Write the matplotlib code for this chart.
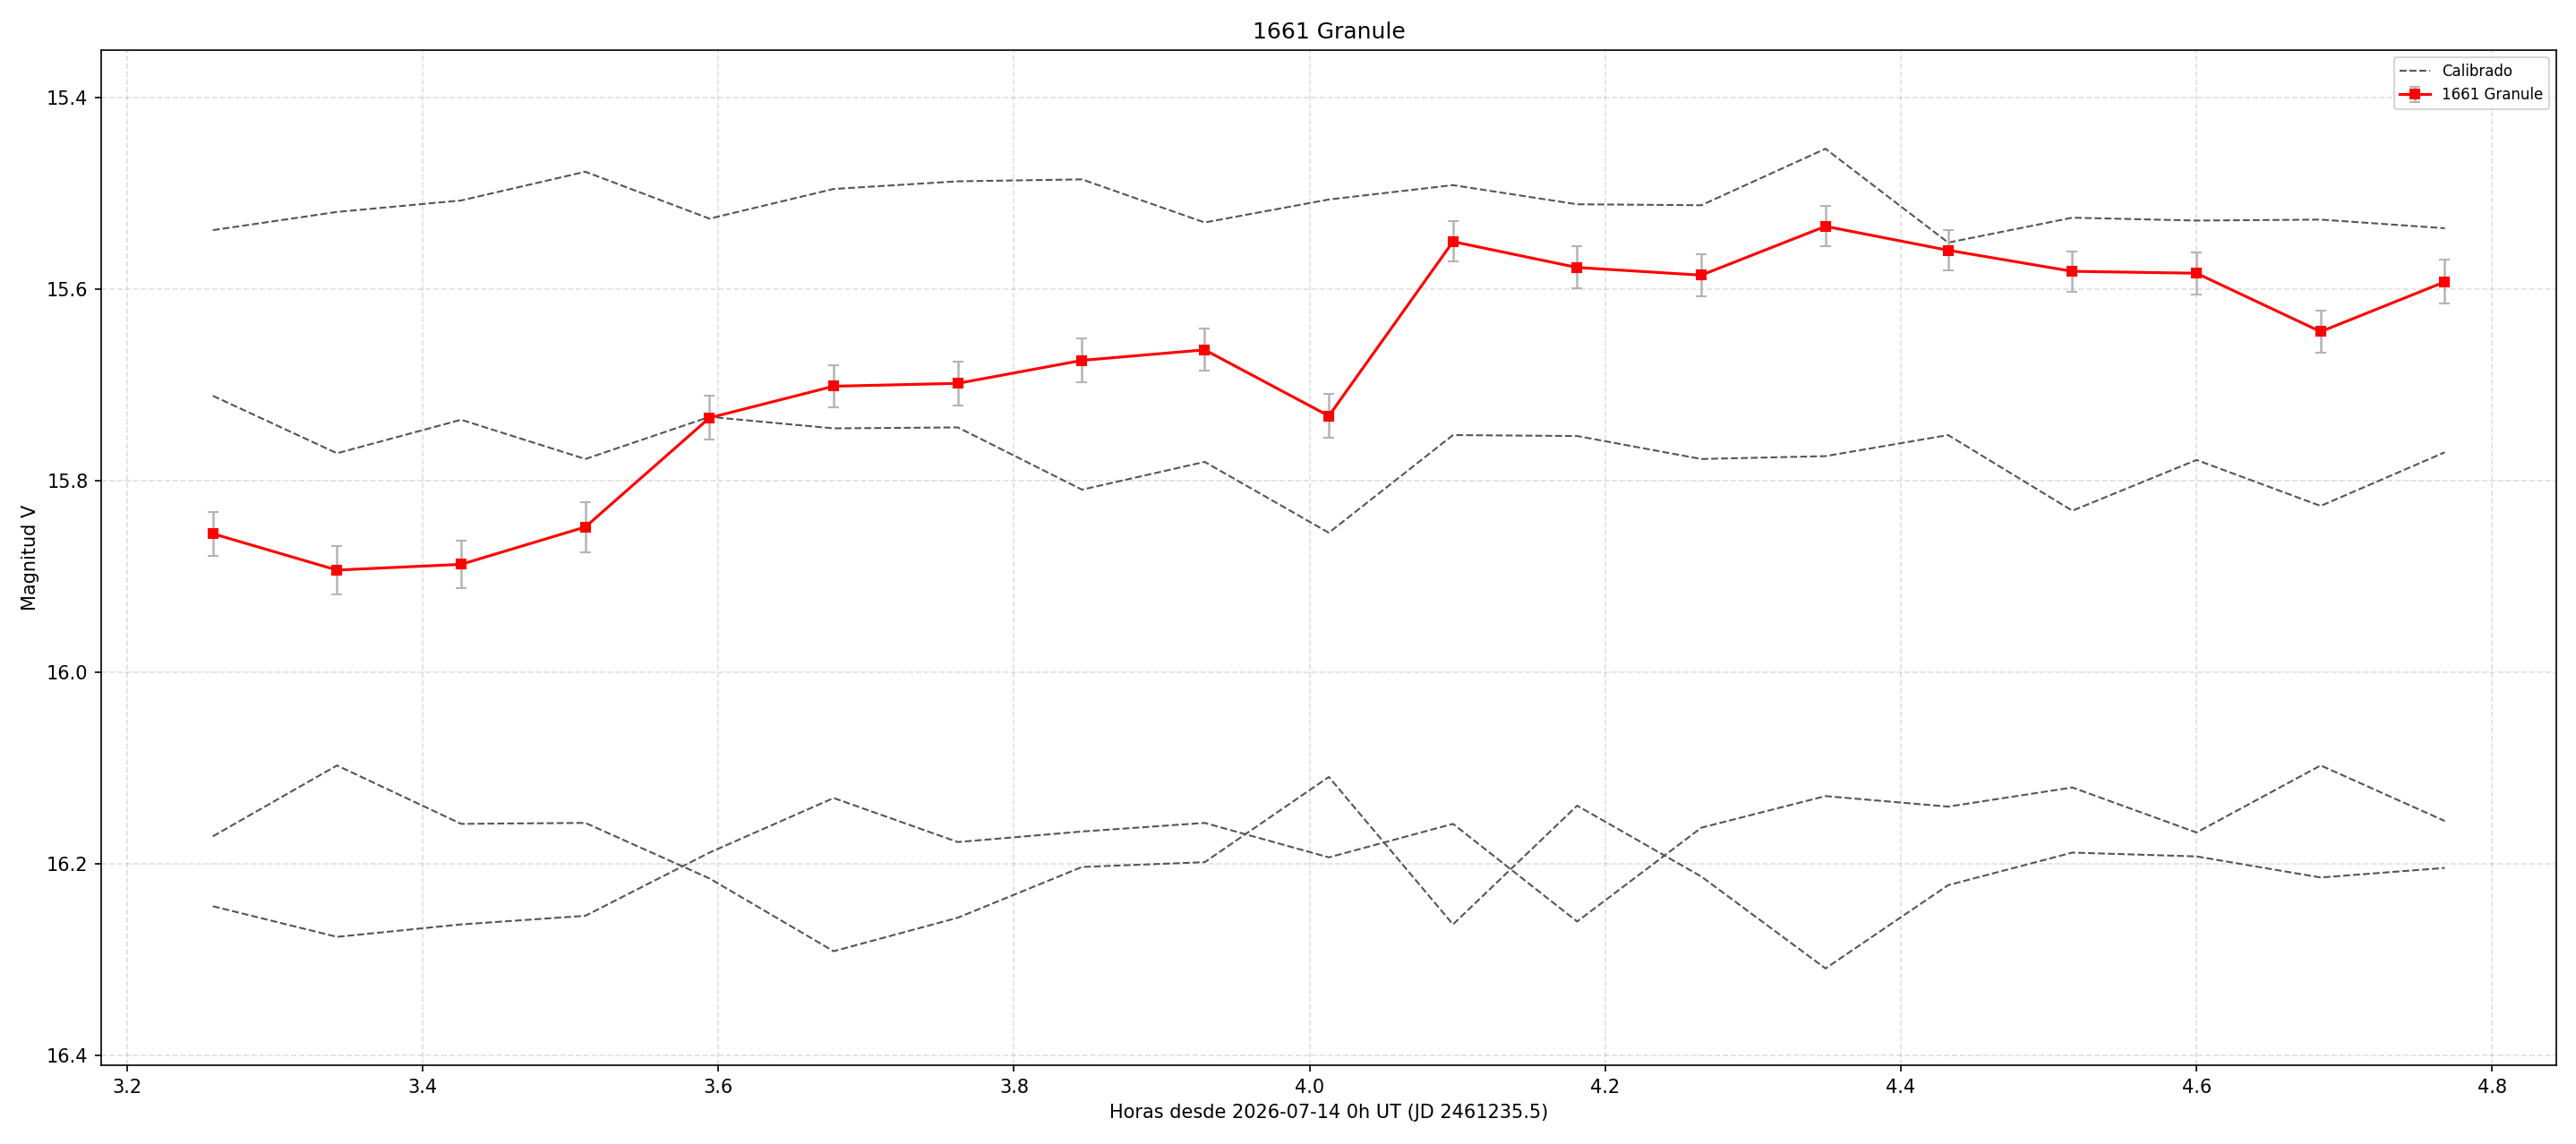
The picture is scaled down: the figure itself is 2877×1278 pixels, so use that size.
import matplotlib
matplotlib.use('Agg')
from matplotlib import pyplot as plt

# hours since 2026-07-14 0h UT
hours = [3.258, 3.342, 3.426, 3.510, 3.594, 3.678, 3.762, 3.846, 3.929,
         4.013, 4.097, 4.181, 4.265, 4.349, 4.432, 4.516, 4.600, 4.684,
         4.768]

# target magnitudes and errors
target_mag = [15.855, 15.893, 15.887, 15.848, 15.734, 15.701, 15.698,
              15.674, 15.663, 15.732, 15.550, 15.577, 15.585, 15.534,
              15.559, 15.581, 15.583, 15.644, 15.592]
target_err = [0.023, 0.025, 0.025, 0.026, 0.023, 0.022, 0.023, 0.023,
              0.022, 0.023, 0.021, 0.022, 0.022, 0.021, 0.021, 0.021,
              0.022, 0.022, 0.023]

# calibrated comparison stars
calib_1 = [15.538, 15.519, 15.507, 15.477, 15.526, 15.495, 15.487, 15.485,
           15.530, 15.506, 15.491, 15.511, 15.512, 15.453, 15.551, 15.525,
           15.528, 15.527, 15.536]
calib_2 = [15.711, 15.771, 15.736, 15.777, 15.733, 15.745, 15.744, 15.809,
           15.780, 15.854, 15.752, 15.753, 15.777, 15.774, 15.752, 15.831,
           15.778, 15.826, 15.770]
calib_3 = [16.171, 16.097, 16.158, 16.157, 16.215, 16.291, 16.256, 16.203,
           16.198, 16.109, 16.263, 16.139, 16.213, 16.309, 16.222, 16.188,
           16.192, 16.214, 16.204]
calib_4 = [16.244, 16.276, 16.263, 16.254, 16.188, 16.131, 16.177, 16.166,
           16.157, 16.193, 16.158, 16.260, 16.162, 16.129, 16.140, 16.120,
           16.167, 16.097, 16.155]

fig = plt.figure(figsize=(19.18, 8.52), dpi=150)
ax = plt.subplot()
fig.subplots_adjust(left=0.0393, right=0.9924, bottom=0.0689, top=0.9562)

for i, c in enumerate([calib_1, calib_2, calib_3, calib_4]):
    ax.plot(hours, c, linestyle='--', color='#555555', linewidth=1,
            label='Calibrado' if i == 0 else None)

ax.errorbar(hours, target_mag, yerr=target_err, color='red', marker='s',
            markersize=5, linewidth=1.5, ecolor='#b4b4b4', elinewidth=1.2,
            capsize=3, label='1661 Granule')

ax.set_ylim(16.41, 15.35)
ax.grid(True, linestyle='--', alpha=0.4)
ax.set_xlabel('Horas desde 2026-07-14 0h UT (JD 2461235.5)')
ax.set_ylabel('Magnitud V')
ax.set_title('1661 Granule')
ax.legend(loc='upper right', fontsize=8)

plt.savefig('out.png', dpi=150)
